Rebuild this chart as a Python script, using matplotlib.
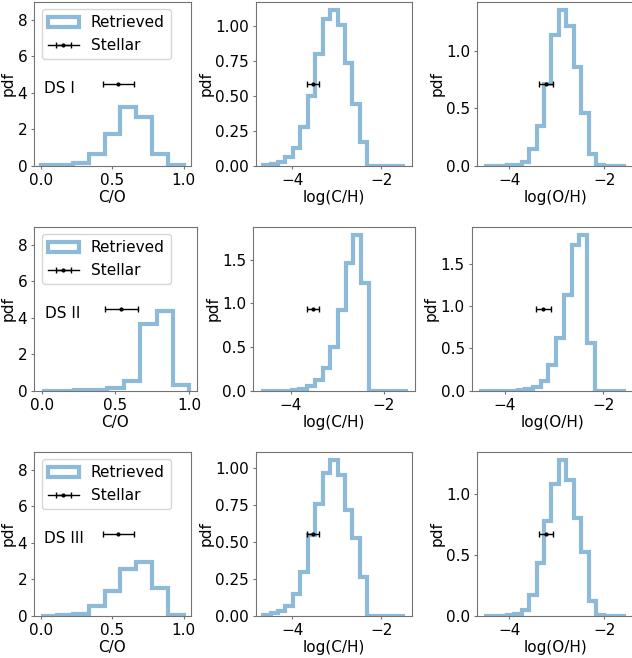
import numpy as np
import matplotlib
matplotlib.use("Agg")
import matplotlib.pyplot as plt

# ---- data ----
datasets = ["DS I", "DS II", "DS III"]

# C/O histograms: 9 bins on [0, 1]
co_edges = np.linspace(0.0, 1.0, 10)
co_pdf = [
    [0.02, 0.05, 0.15, 0.65, 1.75, 3.2, 2.65, 0.65, 0.02],
    [0.01, 0.01, 0.02, 0.05, 0.15, 0.55, 3.66, 4.40, 0.31],
    [0.01, 0.03, 0.12, 0.55, 1.35, 2.55, 2.95, 1.50, 0.05],
]

# log(C/H) histograms: 19 bins
ch_edges = np.linspace(-4.65, -1.48, 20)
ch_pdf = [
    [0.003, 0.01, 0.03, 0.065, 0.13, 0.28, 0.50, 0.80, 1.05, 1.12,
     1.01, 0.74, 0.44, 0.17, 0.0, 0.0, 0.0, 0.0, 0.0],
    [0.0, 0.0, 0.0, 0.0, 0.003, 0.02, 0.05, 0.12, 0.26, 0.50,
     0.92, 1.46, 1.79, 1.24, 0.0, 0.0, 0.0, 0.0, 0.0],
    [0.005, 0.016, 0.03, 0.068, 0.144, 0.293, 0.55, 0.76, 0.966, 1.059,
     0.957, 0.714, 0.529, 0.264, 0.0, 0.0, 0.0, 0.0, 0.0],
]

# log(O/H) histograms: 19 bins
oh_edges = np.linspace(-4.52, -1.55, 20)
oh_pdf = [
    [0.0, 0.0, 0.0, 0.002, 0.005, 0.03, 0.145, 0.35, 0.71, 1.14,
     1.36, 1.22, 0.86, 0.46, 0.10, 0.005, 0.0, 0.0, 0.0],
    [0.0, 0.0, 0.0, 0.0, 0.0, 0.003, 0.02, 0.04, 0.12, 0.30,
     0.62, 1.13, 1.72, 1.85, 0.57, 0.0, 0.0, 0.0, 0.0],
    [0.0, 0.0, 0.0, 0.002, 0.01, 0.045, 0.17, 0.43, 0.78, 1.08,
     1.28, 1.11, 0.80, 0.52, 0.12, 0.005, 0.0, 0.0, 0.0],
]

# stellar values (value, error)
stellar_co = (0.54, 0.11)
stellar_ch = (-3.53, 0.13)
stellar_oh = (-3.22, 0.15)

# axes boxes in pixels: (left, top, right, bottom)
boxes = [
    [(34.3, 1.7, 190.7, 165.7), (256.0, 1.7, 411.7, 165.7), (477.3, 1.7, 633.0, 165.7)],
    [(34.3, 226.7, 196.7, 390.7), (253.3, 226.7, 415.0, 390.7), (471.7, 226.7, 633.0, 390.7)],
    [(34.3, 451.7, 190.7, 615.7), (256.0, 451.7, 411.7, 615.7), (477.3, 451.7, 633.0, 615.7)],
]

W, H = 632, 658
plt.rcParams['font.size'] = 11
plt.rcParams['axes.edgecolor'] = '0.45'
plt.rcParams['xtick.color'] = '0.45'
plt.rcParams['ytick.color'] = '0.45'
plt.rcParams['xtick.labelcolor'] = 'black'
plt.rcParams['ytick.labelcolor'] = 'black'
plt.rcParams['xtick.major.size'] = 2.5
plt.rcParams['ytick.major.size'] = 2.5
plt.rcParams['xtick.major.pad'] = 2.5
plt.rcParams['ytick.major.pad'] = 2.5

fig = plt.figure(figsize=(W / 100, H / 100), dpi=100)

hist_kw = dict(histtype='step', color='C0', alpha=0.5, linewidth=3)
err_kw = dict(color='k', marker='.', markersize=4, linewidth=1,
              elinewidth=1, capsize=2.5, capthick=1)


def add_ax(box):
    l, t, r, b = box
    return fig.add_axes([l / W, 1 - b / H, (r - l) / W, (b - t) / H])


for i, name in enumerate(datasets):
    # C/O
    ax = add_ax(boxes[i][0])
    ax.hist(co_edges[:-1], bins=co_edges, weights=co_pdf[i], label='Retrieved', **hist_kw)
    ax.set_ylim(0, 9)
    ax.errorbar(stellar_co[0], 4.5, xerr=stellar_co[1], label='Stellar', **err_kw)
    ax.text(0.02, 4, name)
    ax.set_xlabel('C/O', labelpad=2)
    ax.set_ylabel('pdf', labelpad=1.5)
    ax.set_yticks([0, 2, 4, 6, 8])
    ax.legend(loc='upper left')

    # log(C/H)
    ax = add_ax(boxes[i][1])
    ax.hist(ch_edges[:-1], bins=ch_edges, weights=ch_pdf[i], **hist_kw)
    top = ax.get_ylim()[1]
    ax.errorbar(stellar_ch[0], top / 2, xerr=stellar_ch[1], **err_kw)
    ax.set_xticks([-4, -2])
    ax.set_xlabel('log(C/H)', labelpad=2)
    ax.set_ylabel('pdf', labelpad=1.5)

    # log(O/H)
    ax = add_ax(boxes[i][2])
    ax.hist(oh_edges[:-1], bins=oh_edges, weights=oh_pdf[i], **hist_kw)
    top = ax.get_ylim()[1]
    ax.errorbar(stellar_oh[0], top / 2, xerr=stellar_oh[1], **err_kw)
    ax.set_xticks([-4, -2])
    ax.set_xlabel('log(O/H)', labelpad=2)
    ax.set_ylabel('pdf', labelpad=1.5)

fig.savefig('out.png', dpi=100)
